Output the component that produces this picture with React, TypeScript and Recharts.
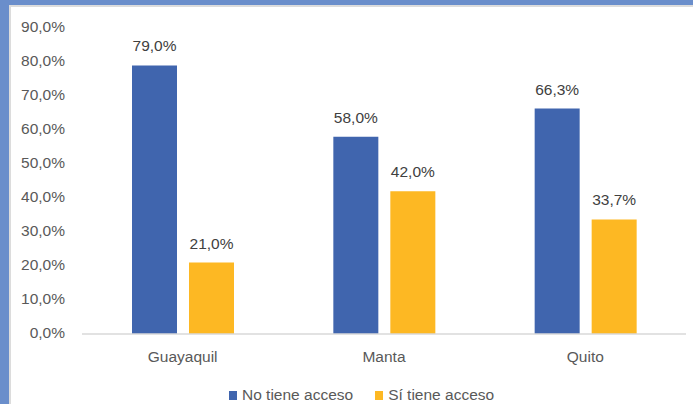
import { BarChart, Bar, XAxis, YAxis, LabelList } from 'recharts'

const cities = ['Guayaquil', 'Manta', 'Quito']
const noAccess = [79.0, 58.0, 66.3]
const withAccess = [21.0, 42.0, 33.7]
const seriesNames = ['No tiene acceso', 'Sí tiene acceso']
const yTicks = [0, 10, 20, 30, 40, 50, 60, 70, 80, 90]

const BLUE = '#4065ae'
const GOLD = '#fdb823'
const FONT = '"Liberation Sans", Arial, sans-serif'
const FS = 15.5

const data = cities.map((city, i) => ({ city, no: noAccess[i], si: withAccess[i] }))

const pct = (v: number) => `${v.toFixed(1).replace('.', ',')}%`

const YTick = ({ x, y, payload }: any) => (
  <text x={x} y={y} dy={4} textAnchor="end" fill="#595959" fontSize={FS} fontFamily={FONT}>
    {pct(payload.value)}
  </text>
)

const XTick = ({ x, y, payload }: any) => (
  <text x={x} y={y + 28} textAnchor="middle" fill="#595959" fontSize={FS} fontFamily={FONT}>
    {payload.value}
  </text>
)

const BarLabel = ({ x, y, width, value }: any) => (
  <text x={x + width / 2} y={y - 14} textAnchor="middle" fill="#404040" fontSize={FS} fontFamily={FONT}>
    {pct(value)}
  </text>
)

export default function App() {
  return (
    <div style={{ position: 'fixed', left: 0, top: 0, width: 693, height: 404, background: '#6a8ecb', overflow: 'hidden' }}>
      <div
        style={{
          position: 'absolute', left: 9, top: 5, right: 0, bottom: 0,
          background: '#fff', borderLeft: '2px solid #dcdcdc', borderTop: '2px solid #dcdcdc',
          boxSizing: 'border-box',
        }}
      />
      <div style={{ position: 'absolute', left: 0, top: 0 }}>
        <BarChart
          width={693}
          height={404}
          data={data}
          margin={{ top: 28, right: 7, left: 0, bottom: 0 }}
          barSize={45}
          barGap={12}
        >
          <YAxis
            width={82}
            domain={[0, 90]}
            ticks={yTicks}
            axisLine={false}
            tickLine={false}
            tickSize={0}
            tickMargin={17}
            tick={<YTick />}
            interval={0}
          />
          <XAxis
            dataKey="city"
            height={70}
            axisLine={{ stroke: '#d9d9d9', strokeWidth: 1.5 }}
            tickLine={false}
            tickSize={0}
            tickMargin={0}
            tick={<XTick />}
          />
          <Bar dataKey="no" name={seriesNames[0]} fill={BLUE} isAnimationActive={false}>
            <LabelList dataKey="no" content={<BarLabel />} />
          </Bar>
          <Bar dataKey="si" name={seriesNames[1]} fill={GOLD} isAnimationActive={false}>
            <LabelList dataKey="si" content={<BarLabel />} />
          </Bar>
        </BarChart>
      </div>
      <div
        style={{
          position: 'absolute', left: 229, top: 386, display: 'flex', alignItems: 'center',
          fontFamily: FONT, fontSize: FS, color: '#595959', lineHeight: '18px', whiteSpace: 'nowrap',
        }}
      >
        {seriesNames.map((name, i) => (
          <div key={name} style={{ display: 'flex', alignItems: 'center', marginRight: i === 0 ? 22 : 0 }}>
            <span style={{ display: 'inline-block', width: 8, height: 9, background: i === 0 ? BLUE : GOLD, marginRight: 5 }} />
            <span>{name}</span>
          </div>
        ))}
      </div>
    </div>
  )
}
